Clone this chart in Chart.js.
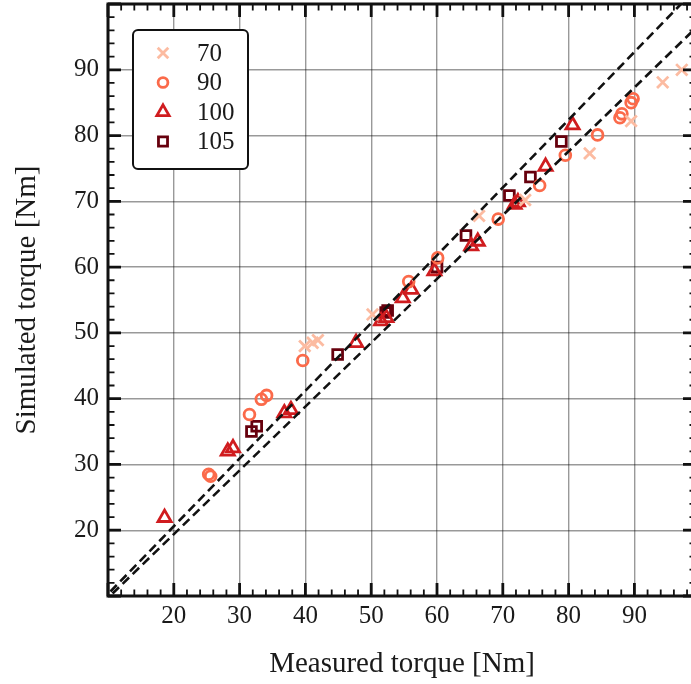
<!DOCTYPE html>
<html>
<head>
<meta charset="utf-8">
<script src="https://cdn.jsdelivr.net/npm/chart.js@4.4.1/dist/chart.umd.min.js"></script>
<style>
  html, body { margin: 0; padding: 0; background: #fff; overflow: hidden; }
  #wrap { width: 697px; height: 684px; position: relative; }
</style>
</head>
<body>
<div id="wrap"><canvas id="torqueChart"></canvas></div>
<script>
// measured vs simulated torque, one series per speed setting
const seriesNames = ['70', '90', '100', '105'];
const seriesColors = ['#fcbba1', '#fb6a4a', '#d01c1f', '#67000d'];
const seriesStyles = ['crossRot', 'circle', 'triangle', 'rect'];
const seriesRadius = [8, 5.4, 7.6, 6.9];

const measured70  = [39.9, 41.1, 41.9, 50.2, 66.4, 73.4, 83.2, 89.5, 94.3, 97.2];
const simulated70 = [48.0, 48.5, 48.9, 52.8, 67.8, 70.2, 77.3, 82.2, 88.1, 90.0];

const measured90  = [25.3, 25.6, 31.5, 33.3, 34.1, 39.6, 55.7, 60.1, 69.3, 75.6, 79.5, 84.4, 87.8, 88.1, 89.5, 89.8];
const simulated90 = [28.5, 28.2, 37.6, 39.9, 40.5, 45.8, 57.8, 61.4, 67.3, 72.4, 77.0, 80.1, 82.7, 83.3, 85.0, 85.6];

const measured100  = [18.6, 28.2, 29.0, 36.8, 37.8, 47.7, 51.5, 52.3, 54.8, 56.1, 59.6, 65.2, 66.2, 71.8, 72.3, 76.5, 80.6];
const simulated100 = [21.9, 32.0, 32.5, 37.8, 38.3, 48.5, 51.8, 52.3, 55.3, 56.6, 59.4, 63.2, 63.9, 69.5, 69.9, 75.3, 81.6];

const measured105  = [31.8, 32.6, 44.9, 52.2, 52.5, 60.0, 64.4, 71.0, 74.2, 78.9];
const simulated105 = [35.0, 35.8, 46.7, 53.1, 53.4, 60.0, 64.8, 70.9, 73.7, 79.1];

// +/-3 % band
const bandX     = [0, 100];
const bandUpper = [0, 103];
const bandLower = [0, 97];

const xMin = 10, xMax = 99.36, yMin = 10, yMax = 100;

const measured = [measured70, measured90, measured100, measured105];
const simulated = [simulated70, simulated90, simulated100, simulated105];

function pairs(xs, ys) {
    return xs.map((v, i) => ({ x: v, y: ys[i] }));
}

function bandLine(ys) {
    return {
        type: 'line',
        data: pairs(bandX, ys),
        borderColor: '#111',
        borderWidth: 2.6,
        borderDash: [9, 5],
        pointRadius: 0,
        fill: false
    };
}

const datasets = [bandLine(bandUpper), bandLine(bandLower)];
seriesNames.forEach((name, i) => {
    datasets.push({
        label: name,
        data: pairs(measured[i], simulated[i]),
        pointStyle: seriesStyles[i],
        pointRadius: seriesRadius[i],
        pointBorderWidth: 2.8,
        borderColor: seriesColors[i],
        backgroundColor: 'rgba(255,255,255,0)',
        showLine: false
    });
});

// no extra room for edge labels, the frame sits right on the margins
function fitScale(s, size) {
    if (s.isHorizontal()) s.height = size; else s.width = size;
    s.paddingTop = 0; s.paddingBottom = 0;
    s.paddingLeft = 0; s.paddingRight = 0;
}

// thick box with inward ticks on all four sides
const frameTicks = {
    id: 'frameTicks',
    afterDatasetsDraw(chart) {
        const { ctx, chartArea: a, scales: { x, y } } = chart;
        ctx.save();
        ctx.strokeStyle = '#111';
        for (let v = 10; v <= 100; v += 2) {
            const major = v % 10 === 0;
            const len = major ? 13 : 6.5;
            ctx.lineWidth = major ? 2.8 : 1.8;
            ctx.beginPath();
            if (v <= xMax) {
                const px = x.getPixelForValue(v);
                ctx.moveTo(px, a.bottom); ctx.lineTo(px, a.bottom - len);
                ctx.moveTo(px, a.top); ctx.lineTo(px, a.top + len);
            }
            const py = y.getPixelForValue(v);
            ctx.moveTo(a.left, py); ctx.lineTo(a.left + len, py);
            ctx.moveTo(a.right, py); ctx.lineTo(a.right - len, py);
            ctx.stroke();
        }
        ctx.lineWidth = 3;
        ctx.strokeRect(a.left, a.top, a.right - a.left, a.bottom - a.top);
        ctx.restore();
    }
};

// boxed legend in the upper-left corner
const boxLegend = {
    id: 'boxLegend',
    afterDraw(chart) {
        const ctx = chart.ctx;
        const bx = 133, by = 30, bw = 115, bh = 139, r = 5;
        ctx.save();
        ctx.beginPath();
        ctx.moveTo(bx + r, by);
        ctx.arcTo(bx + bw, by, bx + bw, by + bh, r);
        ctx.arcTo(bx + bw, by + bh, bx, by + bh, r);
        ctx.arcTo(bx, by + bh, bx, by, r);
        ctx.arcTo(bx, by, bx + bw, by, r);
        ctx.closePath();
        ctx.fillStyle = '#fff';
        ctx.fill();
        ctx.lineWidth = 2;
        ctx.strokeStyle = '#111';
        ctx.stroke();

        ctx.font = "25px 'Liberation Serif', 'DejaVu Serif', serif";
        ctx.textBaseline = 'middle';
        ctx.textAlign = 'left';
        seriesNames.forEach((name, i) => {
            const rowY = 53 + i * 29.5;
            ctx.strokeStyle = seriesColors[i];
            ctx.fillStyle = 'rgba(255,255,255,0)';
            ctx.lineWidth = 2.8;
            Chart.helpers.drawPoint(ctx, {
                pointStyle: seriesStyles[i],
                radius: seriesRadius[i] - 0.5,
                rotation: 0,
                borderWidth: 2.8
            }, 163, rowY);
            ctx.fillStyle = '#1a1a1a';
            ctx.fillText(name, 197, rowY + 1);
        });
        ctx.restore();
    }
};

Chart.defaults.font.family = "'Liberation Serif', 'DejaVu Serif', serif";
Chart.defaults.color = '#1a1a1a';

new Chart(document.getElementById('torqueChart'), {
    type: 'scatter',
    data: { datasets },
    options: {
        responsive: true,
        maintainAspectRatio: false,
        animation: false,
        layout: { autoPadding: false, padding: { top: 4, right: 1, left: 0, bottom: 0 } },
        plugins: {
            legend: { display: false },
            tooltip: { enabled: false }
        },
        scales: {
            x: {
                type: 'linear',
                min: xMin,
                max: xMax,
                afterFit: s => fitScale(s, 88),
                border: { display: false },
                grid: { color: 'rgba(0,0,0,0.4)', lineWidth: 1.4, drawTicks: false },
                ticks: {
                    stepSize: 10,
                    includeBounds: false,
                    padding: 5,
                    font: { size: 25 },
                    maxRotation: 0,
                    callback: v => (v >= 20 && v <= 90) ? String(v) : ''
                },
                title: {
                    display: true,
                    text: 'Measured torque [Nm]',
                    font: { size: 29 },
                    padding: { top: 0, bottom: 2 }
                }
            },
            y: {
                type: 'linear',
                min: yMin,
                max: yMax,
                afterFit: s => fitScale(s, 108),
                border: { display: false },
                grid: { color: 'rgba(0,0,0,0.4)', lineWidth: 1.4, drawTicks: false },
                ticks: {
                    stepSize: 10,
                    padding: 9,
                    font: { size: 25 },
                    callback: v => (v >= 20 && v <= 90) ? String(v) : ''
                },
                title: {
                    display: true,
                    text: 'Simulated torque [Nm]',
                    font: { size: 29 },
                    padding: { top: 10, bottom: 0 }
                }
            }
        }
    },
    plugins: [frameTicks, boxLegend]
});
</script>
</body>
</html>
